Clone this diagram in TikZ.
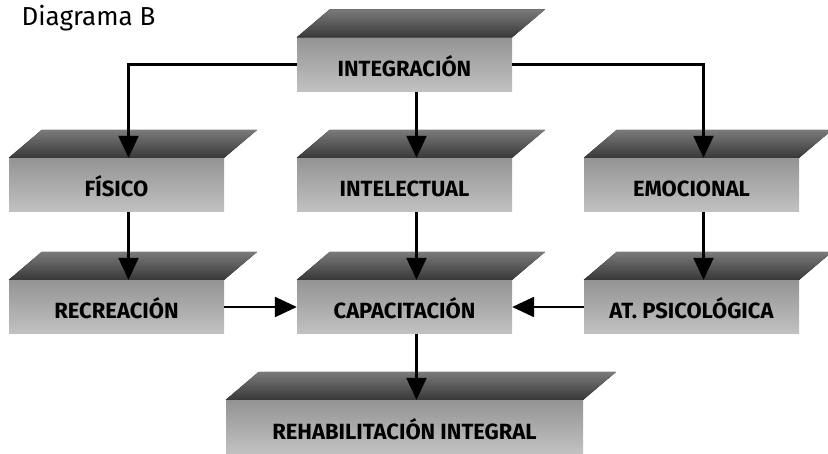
\documentclass[tikz,border=0pt]{standalone}
\usepackage{fontspec}
\setmainfont{Fira Sans}
\usetikzlibrary{arrows.meta,calc}
\tikzset{>={Triangle[length=22pt,width=20pt]}}
\tikzset{
  slab/.style={top color=black!42,bottom color=black!24,minimum width=215pt,
    minimum height=54pt,inner sep=0pt,text height=24pt,text depth=0pt,
    font=\fontsize{22}{22}\selectfont\bfseries},
  lid/.style={top color=black!52,bottom color=black!78},
  link/.style={line width=2.4pt,->}
}

\begin{document}
\begin{tikzpicture}[x=1pt,y=-1pt]
    \useasboundingbox (0,0) rectangle (828,454);
    \node[font=\fontsize{26}{26}\selectfont,anchor=west] (title) at (18,18) {Diagrama B};
    \node[slab] (integ) at (404.5,64.5) {INTEGRACIÓN};
    \node[slab] (fisico) at (116.5,185) {FÍSICO};
    \node[slab] (intel) at (404.5,185) {INTELECTUAL};
    \node[slab] (emoc) at (691.5,185) {EMOCIONAL};
    \node[slab] (recre) at (116.5,307) {RECREACIÓN};
    \node[slab] (capac) at (404.5,307) {CAPACITACIÓN};
    \node[slab] (atpsi) at (691.5,307) {AT. PSICOLÓGICA};
    \node[slab,minimum width=357pt] (rehab) at (404.5,427) {REHABILITACIÓN INTEGRAL};
    \foreach \n in {integ,fisico,intel,emoc,recre,capac,atpsi,rehab}
      \fill[lid] (\n.north west) -- ++(33,-28) -- ($(\n.north east)+(33,-28)$) -- (\n.north east) -- cycle;
    \draw[link] (integ.west) -| ([xshift=12pt]fisico.north);
    \draw[link] (integ.east) -| ([xshift=12pt]emoc.north);
    \draw[link] ([xshift=12pt]integ.south) -- ([xshift=12pt]intel.north);
    \draw[link] ([xshift=12pt]fisico.south) -- ([xshift=12pt]recre.north);
    \draw[link] ([xshift=12pt]intel.south) -- ([xshift=12pt]capac.north);
    \draw[link] ([xshift=12pt]emoc.south) -- ([xshift=12pt]atpsi.north);
    \draw[link] (recre.east) -- (capac.west);
    \draw[link] (atpsi.west) -- (capac.east);
    \draw[link] ([xshift=12pt]capac.south) -- ([xshift=12pt]rehab.north);
\end{tikzpicture}
\end{document}
